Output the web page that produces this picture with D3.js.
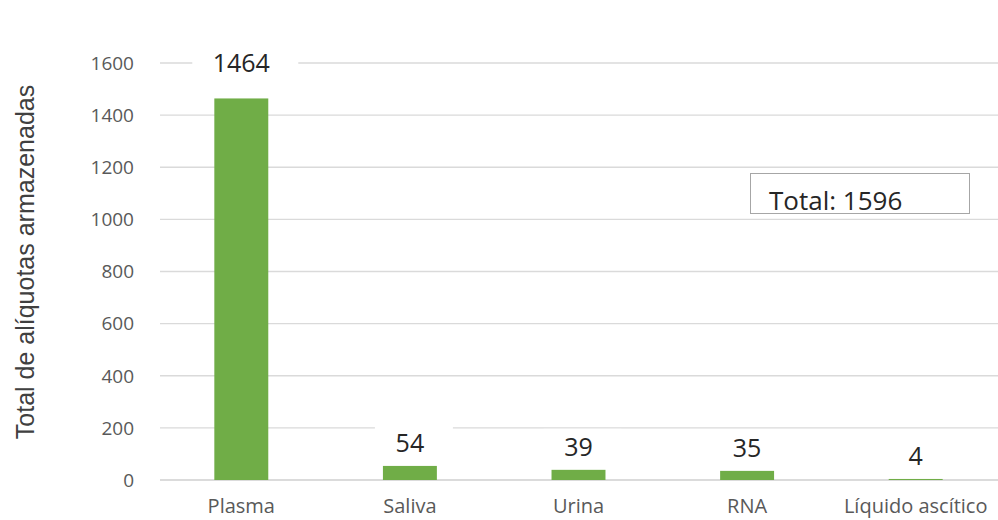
<!DOCTYPE html>
<html>
<head>
<meta charset="utf-8">
<script src="https://cdn.jsdelivr.net/npm/d3@7"></script>
<style>
  body { margin: 0; background: #fff; }
  text { font-family: "Open Sans", "Noto Sans", sans-serif; }
</style>
</head>
<body>
<div id="chart"></div>
<script>
// data
var categories = ["Plasma", "Saliva", "Urina", "RNA", "Líquido ascítico"];
var values = [1464, 54, 39, 35, 4];
var yTicks = [0, 200, 400, 600, 800, 1000, 1200, 1400, 1600];
var totalLabel = "Total: 1596";

var width = 998, height = 520;
var margin = {top: 63, right: -2, bottom: 40, left: 157};

var svg = d3.select("#chart")
    .append("svg")
    .attr("width", width)
    .attr("height", height);

var x = d3.scaleBand()
    .domain(categories)
    .range([margin.left, width - margin.right])
    .paddingInner(0.68)
    .paddingOuter(0.34);

var y = d3.scaleLinear()
    .domain([0, 1600])
    .range([height - margin.bottom, margin.top]);

// gridlines
svg.append("g")
    .selectAll("line")
    .data(yTicks)
    .enter()
    .append("line")
    .attr("x1", 160)
    .attr("x2", width)
    .attr("y1", function (d) { return y(d); })
    .attr("y2", function (d) { return y(d); })
    .style("stroke", function (d) { return d === 0 ? "#cfcfcf" : "#dadada"; })
    .style("stroke-width", 1.3);

// y tick labels
svg.append("g")
    .selectAll("text")
    .data(yTicks)
    .enter()
    .append("text")
    .attr("x", 134)
    .attr("y", function (d) { return y(d); })
    .attr("dy", "0.36em")
    .attr("text-anchor", "end")
    .style("font-size", "19px")
    .style("fill", "#595959")
    .text(function (d) { return d; });

// bars
svg.append("g")
    .selectAll("rect")
    .data(values)
    .enter()
    .append("rect")
    .attr("x", function (d, i) { return x(categories[i]); })
    .attr("width", x.bandwidth())
    .attr("y", function (d) { return y(d); })
    .attr("height", function (d) { return y(0) - y(d); })
    .style("fill", "#70ad47");

// value labels, white box behind each (breaks the gridlines like the original)
var lab = svg.append("g")
    .selectAll("g")
    .data(values)
    .enter()
    .append("g")
    .attr("transform", function (d, i) {
        var cx = x(categories[i]) + x.bandwidth() / 2;
        var cy = i === 0 ? y(1600) : y(d) - 23;
        return "translate(" + cx + "," + cy + ")";
    });

lab.append("rect")
    .attr("x", function (d) { return -(String(d).length * 14 + 50) / 2 + 4; })
    .attr("y", -18)
    .attr("width", function (d) { return String(d).length * 14 + 50; })
    .attr("height", 36)
    .style("fill", "#fff");

lab.append("text")
    .attr("text-anchor", "middle")
    .attr("dy", "0.36em")
    .style("font-size", "25px")
    .style("fill", "#262626")
    .text(function (d) { return d; });

// category labels
svg.append("g")
    .selectAll("text")
    .data(categories)
    .enter()
    .append("text")
    .attr("x", function (d) { return x(d) + x.bandwidth() / 2; })
    .attr("y", 513)
    .attr("text-anchor", "middle")
    .style("font-size", "20px")
    .style("fill", "#595959")
    .text(function (d) { return d; });

// y axis title
svg.append("text")
    .attr("transform", "translate(34,262) rotate(-90)")
    .attr("text-anchor", "middle")
    .style("font-family", "'Liberation Sans', Arial, sans-serif")
    .style("font-size", "25px")
    .style("fill", "#404040")
    .text("Total de alíquotas armazenadas");

// total box
svg.append("rect")
    .attr("x", 750.5)
    .attr("y", 173.5)
    .attr("width", 219)
    .attr("height", 40)
    .style("fill", "#fff")
    .style("stroke", "#a6a6a6")
    .style("stroke-width", 1);

svg.append("text")
    .attr("x", 769)
    .attr("y", 210)
    .style("font-size", "26px")
    .style("fill", "#262626")
    .text(totalLabel);
</script>
</body>
</html>
